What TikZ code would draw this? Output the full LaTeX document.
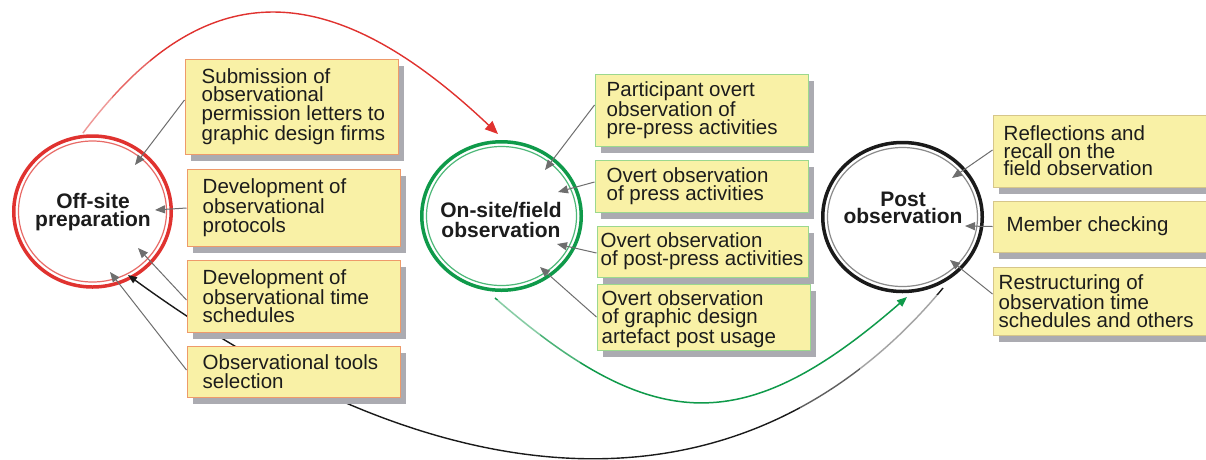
\documentclass[tikz,border=0pt]{standalone}
\usepackage{fontspec}
\setmainfont{Liberation Sans}
\usetikzlibrary{shapes.geometric,arrows.meta,calc,shadows}

\definecolor{ink}{HTML}{1C1C1C}
\definecolor{cardfill}{HTML}{F9F1A6}
\definecolor{cardshadow}{HTML}{ABABB1}
\definecolor{bordL}{HTML}{EE9A6A}
\definecolor{bordM}{HTML}{9BD88E}
\definecolor{bordR}{HTML}{D6C68A}
\definecolor{ringred}{HTML}{E0322F}
\definecolor{ringredin}{HTML}{E86A66}
\definecolor{ringgreen}{HTML}{0F9A4A}
\definecolor{ringgreenin}{HTML}{4DB878}
\definecolor{ringblack}{HTML}{1A1A1A}
\definecolor{ringblackin}{HTML}{8A8A8A}
\definecolor{ptrgray}{HTML}{6E6E6E}

\tikzset{
  stage/.style={ellipse, inner sep=0pt, line width=3.5pt},
  stagetext/.style={align=center, inner sep=0pt, text=ink,
    font=\bfseries\fontsize{21}{#1}\selectfont},
  stagetext/.default=17.5,
  card/.style={rectangle, fill=cardfill, line width=1pt, inner sep=0pt,
    drop shadow={shadow xshift=6pt, shadow yshift=-7pt, fill=cardshadow, opacity=1}},
  cardtext/.style={anchor=west, align=left, inner sep=0pt, text=ink,
    font=\fontsize{20.5}{#1}\selectfont},
  cardtext/.default=18.6,
  pointer/.style={draw=ptrgray, line width=1pt, -{Triangle[length=10pt,width=8pt]}},
  fadeover/.style={draw=white, line width=2.5pt},
}

\begin{document}
\begin{tikzpicture}[x=1pt,y=-1pt]
\fill[white] (0,0) rectangle (1206,459);
\useasboundingbox (0,0) rectangle (1206,459);

% the three stages
\node[stage, draw=ringred, minimum width=157.5pt, minimum height=151pt] (off) at (92.5,211.5) {};
\node[stage, draw=ringgreen, minimum width=159.5pt, minimum height=148.5pt] (on) at (501.5,216) {};
\node[stage, draw=ringblack, minimum width=159.5pt, minimum height=149pt] (post) at (902.5,217) {};
\draw[ringredin, line width=1.2pt] (off.center) ellipse [x radius=74pt, y radius=70.5pt];
\draw[ringgreenin, line width=1.2pt] (on.center) ellipse [x radius=75pt, y radius=69.5pt];
\draw[ringblackin, line width=1.2pt] (post.center) ellipse [x radius=75pt, y radius=69.5pt];

% end points of the stage-to-stage arcs
\coordinate (r-s) at ($(off)+(-9.5,-78.5)$);
\coordinate (r-e) at ($(on)+(-3.5,-82)$);
\coordinate (g-s) at ($(on)+(-6.5,82)$);
\coordinate (g-e) at ($(post)+(4.5,80)$);
\coordinate (k-s) at ($(post)+(40.5,71)$);
\coordinate (k-e) at ($(off)+(35.5,63.5)$);

% stage-to-stage arcs
\draw[ringred, line width=1.4pt, -{Triangle[length=13pt,width=11pt]}]
  (r-s) .. controls +(120,-160) and +(-170,-161) .. (r-e);
\draw[ringgreen, line width=1.5pt, -{Triangle[length=10pt,width=8pt]}]
  (g-s) .. controls +(160,139) and +(-161,140) .. (g-e);
\draw[ringblack, line width=1.4pt, -{Triangle[length=9pt,width=7pt]}]
  (k-s) .. controls +(-190,229) and +(332,242) .. (k-e);

% the arcs fade in where they leave a stage
\begin{scope}
  \clip (0,0) rectangle (112,140);
  \draw[fadeover, opacity=.5] (r-s) .. controls +(120,-160) and +(-170,-161) .. (r-e);
\end{scope}
\begin{scope}
  \clip (112,0) rectangle (150,140);
  \draw[fadeover, opacity=.25] (r-s) .. controls +(120,-160) and +(-170,-161) .. (r-e);
\end{scope}
\begin{scope}
  \clip (480,300) rectangle (540,459);
  \draw[fadeover, opacity=.5] (g-s) .. controls +(160,139) and +(-161,140) .. (g-e);
\end{scope}
\begin{scope}
  \clip (540,300) rectangle (580,459);
  \draw[fadeover, opacity=.25] (g-s) .. controls +(160,139) and +(-161,140) .. (g-e);
\end{scope}
\begin{scope}
  \clip (860,295) rectangle (1000,459);
  \draw[fadeover, opacity=.6] (k-s) .. controls +(-190,229) and +(332,242) .. (k-e);
\end{scope}
\begin{scope}
  \clip (800,295) rectangle (860,459);
  \draw[fadeover, opacity=.3] (k-s) .. controls +(-190,229) and +(332,242) .. (k-e);
\end{scope}

% stage titles
\node[stagetext=17.5] (off-t) at (93,212) {Off-site\\preparation};
\node[stagetext=19.3] (on-t) at (501,220) {On-site/field\\observation};
\node[stagetext=17] (post-t) at (903,207.5) {Post\\observation};

% off-site preparation activities
\node[card, draw=bordL, minimum width=213pt, minimum height=95pt] (L1) at (291.5,106.5) {};
\node[cardtext] (L1t) at ([xshift=17pt]L1.west) {Submission of\\observational\\permission letters to\\graphic design firms};
\node[card, draw=bordL, minimum width=213pt, minimum height=77pt] (L2) at (293.5,207.5) {};
\node[cardtext] (L2t) at ([xshift=16pt]L2.west) {Development of\\observational\\protocols};
\node[card, draw=bordL, minimum width=213pt, minimum height=72pt] (L3) at (293.5,296) {};
\node[cardtext=18.3] (L3t) at ([xshift=16pt]L3.west) {Development of\\observational time\\schedules};
\node[card, draw=bordL, minimum width=213pt, minimum height=51pt] (L4) at (293.5,371.5) {};
\node[cardtext] (L4t) at ([xshift=16pt]L4.west) {Observational tools\\selection};

% on-site observation activities
\node[card, draw=bordM, minimum width=213pt, minimum height=72pt] (M1) at (701.5,110) {};
\node[cardtext=17.4] (M1t) at ([xshift=12pt]M1.west) {Participant overt\\observation of\\pre-press activities};
\node[card, draw=bordM, minimum width=213pt, minimum height=52pt] (M2) at (701.5,186) {};
\node[cardtext=18.3] (M2t) at ([xshift=12pt]M2.west) {Overt observation\\of press activities};
\node[card, draw=bordM, minimum width=211pt, minimum height=51pt] (M3) at (702.5,251.5) {};
\node[cardtext=18.3] (M3t) at ([xshift=4pt]M3.west) {Overt observation\\of post-press activities};
\node[card, draw=bordM, minimum width=213pt, minimum height=66pt] (M4) at (703.5,317) {};
\node[cardtext=18.3] (M4t) at ([xshift=5pt,yshift=-2pt]M4.west) {Overt observation\\of graphic design\\artefact post usage};

% post observation activities
\node[card, draw=bordR, minimum width=220pt, minimum height=72pt] (R1) at (1103,151) {};
\node[cardtext=17.4] (R1t) at ([xshift=11pt]R1.west) {Reflections and\\recall on the\\field observation};
\node[card, draw=bordR, minimum width=220pt, minimum height=51pt] (R2) at (1103,226.5) {};
\node[cardtext] (R2t) at ([xshift=14pt]R2.west) {Member checking};
\node[card, draw=bordR, minimum width=220pt, minimum height=68pt] (R3) at (1103,301) {};
\node[cardtext=17.8] (R3t) at ([xshift=6pt]R3.west) {Restructuring of\\observation time\\schedules and others};

% activity pointers
\draw[pointer] ([yshift=6.5pt]L1.west) -- ($(off)+(42.5,-46.5)$);
\draw[pointer] ([yshift=-0.5pt]L2.west) -- ($(off)+(62.5,-1.5)$);
\draw[pointer] ([yshift=-4pt]L3.west) -- ($(off)+(45.5,36.5)$);
\draw[pointer] ([yshift=1.5pt]L4.west) -- ($(off)+(17.5,60.5)$);

\draw[pointer] ([yshift=5pt]M1.west) -- ($(on)+(43.5,-46)$);
\draw[pointer] ([yshift=4pt]M2.west) -- ($(on)+(56.5,-24)$);
\draw[pointer] ([yshift=-1.5pt]M3.west) -- ($(on)+(55.5,28)$);
\draw[pointer] (M4.west) -- ($(on)+(38.5,51)$);

\draw[pointer] ([yshift=1pt]R1.west) -- ($(post)+(49.5,-39)$);
\draw[pointer] (R2.west) -- ($(post)+(62.5,9)$);
\draw[pointer] ([yshift=7pt]R3.west) -- ($(post)+(47.5,43)$);
\end{tikzpicture}
\end{document}
